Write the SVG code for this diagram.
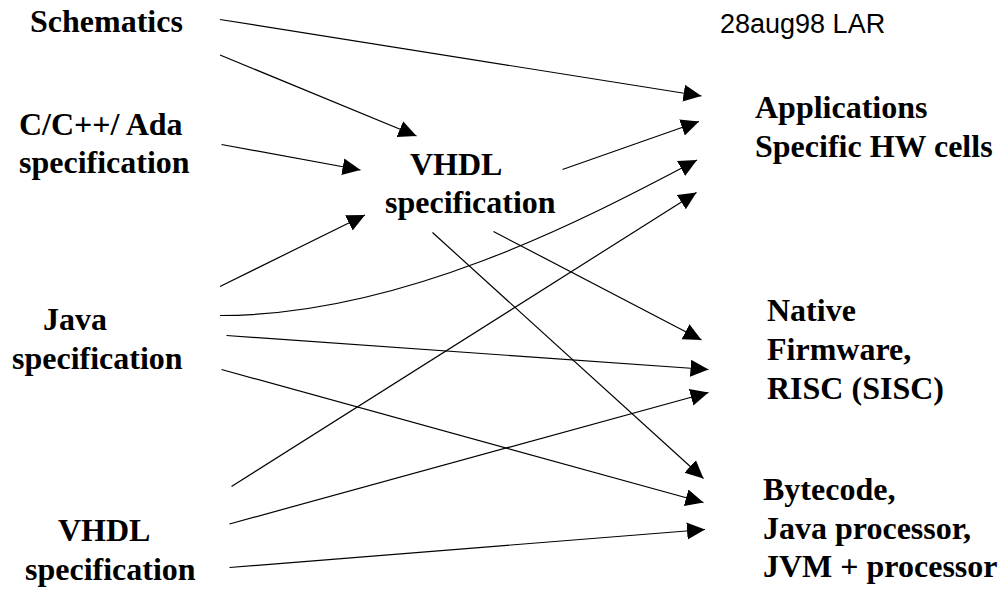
<svg xmlns="http://www.w3.org/2000/svg" width="1001" height="589" viewBox="0 0 1001 589">
  <style>
    .lbl { font-family: "Liberation Serif", "Times New Roman", serif; font-weight: bold; font-size: 32px; fill: #000; }
    .stamp { font-family: "Liberation Sans", Arial, sans-serif; font-size: 27px; fill: #000; }
    .edge { fill: none; stroke: #000; stroke-width: 1.2; marker-end: url(#arrow); }
  </style>
  <defs>
    <marker id="arrow" markerUnits="userSpaceOnUse" markerWidth="20" markerHeight="18" refX="18" refY="8.5" orient="auto">
      <path d="M0,0 L18,8.5 L0,17 Z" fill="#000"/>
    </marker>
  </defs>
  <rect width="1001" height="589" fill="#fff"/>

  <text class="stamp" x="720" y="33">28aug98 LAR</text>

  <g id="schematics">
    <text class="lbl" x="30" y="32">Schematics</text>
  </g>
  <g id="c-cpp-ada">
    <text class="lbl" x="19" y="135">C/C++/ Ada</text>
    <text class="lbl" x="19" y="173">specification</text>
  </g>
  <g id="vhdl-mid">
    <text class="lbl" x="410" y="175">VHDL</text>
    <text class="lbl" x="385" y="213">specification</text>
  </g>
  <g id="java">
    <text class="lbl" x="43" y="330">Java</text>
    <text class="lbl" x="12" y="369">specification</text>
  </g>
  <g id="vhdl-bottom">
    <text class="lbl" x="58" y="541">VHDL</text>
    <text class="lbl" x="25" y="580">specification</text>
  </g>
  <g id="applications">
    <text class="lbl" x="755" y="118">Applications</text>
    <text class="lbl" x="755" y="157">Specific HW cells</text>
  </g>
  <g id="native">
    <text class="lbl" x="767" y="321">Native</text>
    <text class="lbl" x="767" y="360">Firmware,</text>
    <text class="lbl" x="767" y="399">RISC (SISC)</text>
  </g>
  <g id="bytecode">
    <text class="lbl" x="763" y="500">Bytecode,</text>
    <text class="lbl" x="763" y="539">Java processor,</text>
    <text class="lbl" x="763" y="577">JVM + processor</text>
  </g>

  <g id="connectors">
    <!-- into the middle VHDL specification -->
    <path class="edge" d="M220,55 L416.5,136"/>
    <path class="edge" d="M221.5,144.5 L360.5,170"/>
    <path class="edge" d="M220,286.5 L365,215"/>
    <!-- into Applications Specific HW cells -->
    <path class="edge" d="M220,19.5 L701.5,96"/>
    <path class="edge" d="M562.5,169.5 L699,121.5"/>
    <path class="edge" d="M220,315.5 C400,315.5 580,222 697,160"/>
    <path class="edge" d="M231.5,486.5 L696.5,192.5"/>
    <!-- into Native Firmware -->
    <path class="edge" d="M493.5,231.5 L701.5,340"/>
    <path class="edge" d="M226.5,335.5 L708.5,369.5"/>
    <path class="edge" d="M229.5,524 L708.5,392.5"/>
    <!-- into Bytecode -->
    <path class="edge" d="M432.5,232.5 L703.5,478.5"/>
    <path class="edge" d="M221.5,369.5 L703.5,502.5"/>
    <path class="edge" d="M229.5,567.5 L705,529.5"/>
  </g>
</svg>
